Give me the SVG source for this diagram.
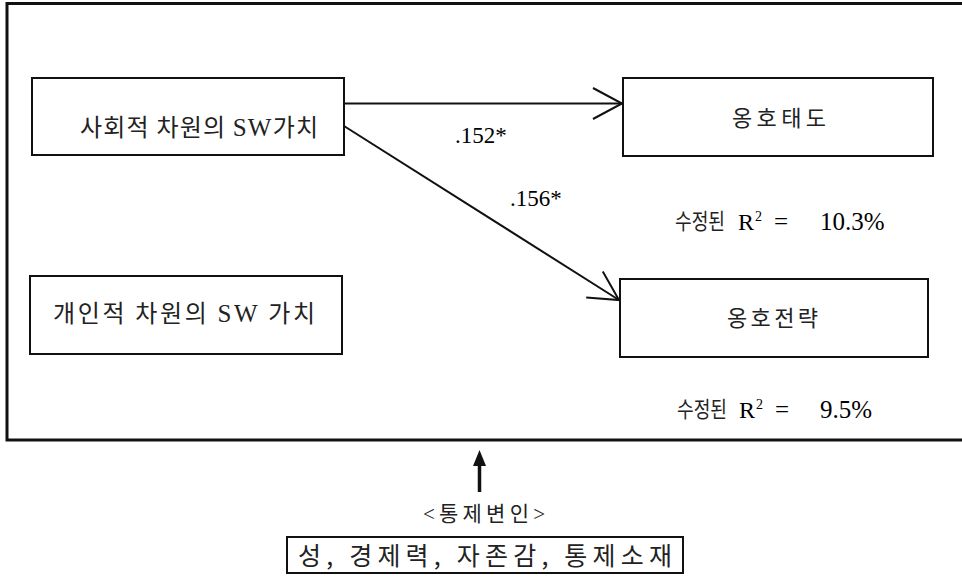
<svg xmlns="http://www.w3.org/2000/svg" width="962" height="577" viewBox="0 0 962 577">
<defs>
<style>
.box{fill:#fff;stroke:#111;stroke-width:2}
.frame{fill:none;stroke:#111;stroke-width:3}
.ln{fill:none;stroke:#111;stroke-width:2}
.t{font-family:'Liberation Serif','Times New Roman','Noto Sans CJK KR',serif;fill:#111}
.k{font-family:'Noto Sans CJK KR',sans-serif;fill:#222}
.s{font-family:'Liberation Serif','Times New Roman',serif}
</style>
<marker id="open" markerUnits="userSpaceOnUse" markerWidth="40" markerHeight="40" viewBox="-32 -20 36 40" refX="0" refY="0" orient="auto">
<path d="M-29,-15.5 L0,0 L-29,15.5" fill="none" stroke="#111" stroke-width="2"/>
</marker>
</defs>
<rect width="962" height="577" fill="#fff"/>
<rect class="frame" x="7" y="3.5" width="970" height="436.5"/>

<g id="connectors">
<line class="ln" x1="344" y1="103.5" x2="622" y2="103.5" marker-end="url(#open)"/>
<line class="ln" x1="344" y1="126" x2="619" y2="300" marker-end="url(#open)"/>
<path d="M479.5,492 V462" stroke="#111" stroke-width="3.5" fill="none"/>
<path d="M479.5,450 L473,466 L486,466 Z" fill="#111"/>
</g>

<g id="n_social">
<rect class="box" x="32" y="78" width="312" height="77"/>
<text class="k" x="80" y="136" font-size="24" textLength="238" lengthAdjust="spacing">사회적 차원의 <tspan class="s" font-size="25">SW</tspan>가치</text>
</g>

<g id="n_personal">
<rect class="box" x="30" y="276" width="312" height="78"/>
<text class="k" x="53" y="322" font-size="24" textLength="262" lengthAdjust="spacing">개인적 차원의 <tspan class="s" font-size="25">SW</tspan> 가치</text>
</g>

<g id="n_attitude">
<rect class="box" x="623" y="78" width="310" height="78"/>
<text class="k" x="732" y="126" font-size="22" textLength="94" lengthAdjust="spacing">옹호태도</text>
</g>

<g id="n_strategy">
<rect class="box" x="620" y="279" width="308" height="78"/>
<text class="k" x="727" y="326" font-size="22" textLength="91" lengthAdjust="spacing">옹호전략</text>
</g>

<g id="labels">
<text class="s" x="455" y="143" font-size="23">.152*</text>
<text class="s" x="510" y="206" font-size="23">.156*</text>

<text class="k" x="675" y="229" font-size="22" textLength="50" lengthAdjust="spacingAndGlyphs">수정된</text>
<text class="s" x="738" y="230" font-size="24">R</text>
<text class="s" x="755" y="221" font-size="14">2</text>
<text class="s" x="774" y="230" font-size="25">=</text>
<text class="s" x="820" y="230" font-size="25">10.3%</text>

<text class="k" x="677" y="417" font-size="22" textLength="50" lengthAdjust="spacingAndGlyphs">수정된</text>
<text class="s" x="739" y="418" font-size="24">R</text>
<text class="s" x="756" y="409" font-size="14">2</text>
<text class="s" x="775" y="418" font-size="25">=</text>
<text class="s" x="820" y="418" font-size="25">9.5%</text>
</g>

<g id="n_control">
<text class="k" x="423" y="521" font-size="21" textLength="122" lengthAdjust="spacing"><tspan class="s">&lt;</tspan>통제변인<tspan class="s">&gt;</tspan></text>
<rect class="box" x="287" y="537" width="396" height="36"/>
<text class="k" x="298" y="565" font-size="25" textLength="374" lengthAdjust="spacing">성, 경제력, 자존감, 통제소재</text>
</g>
</svg>
